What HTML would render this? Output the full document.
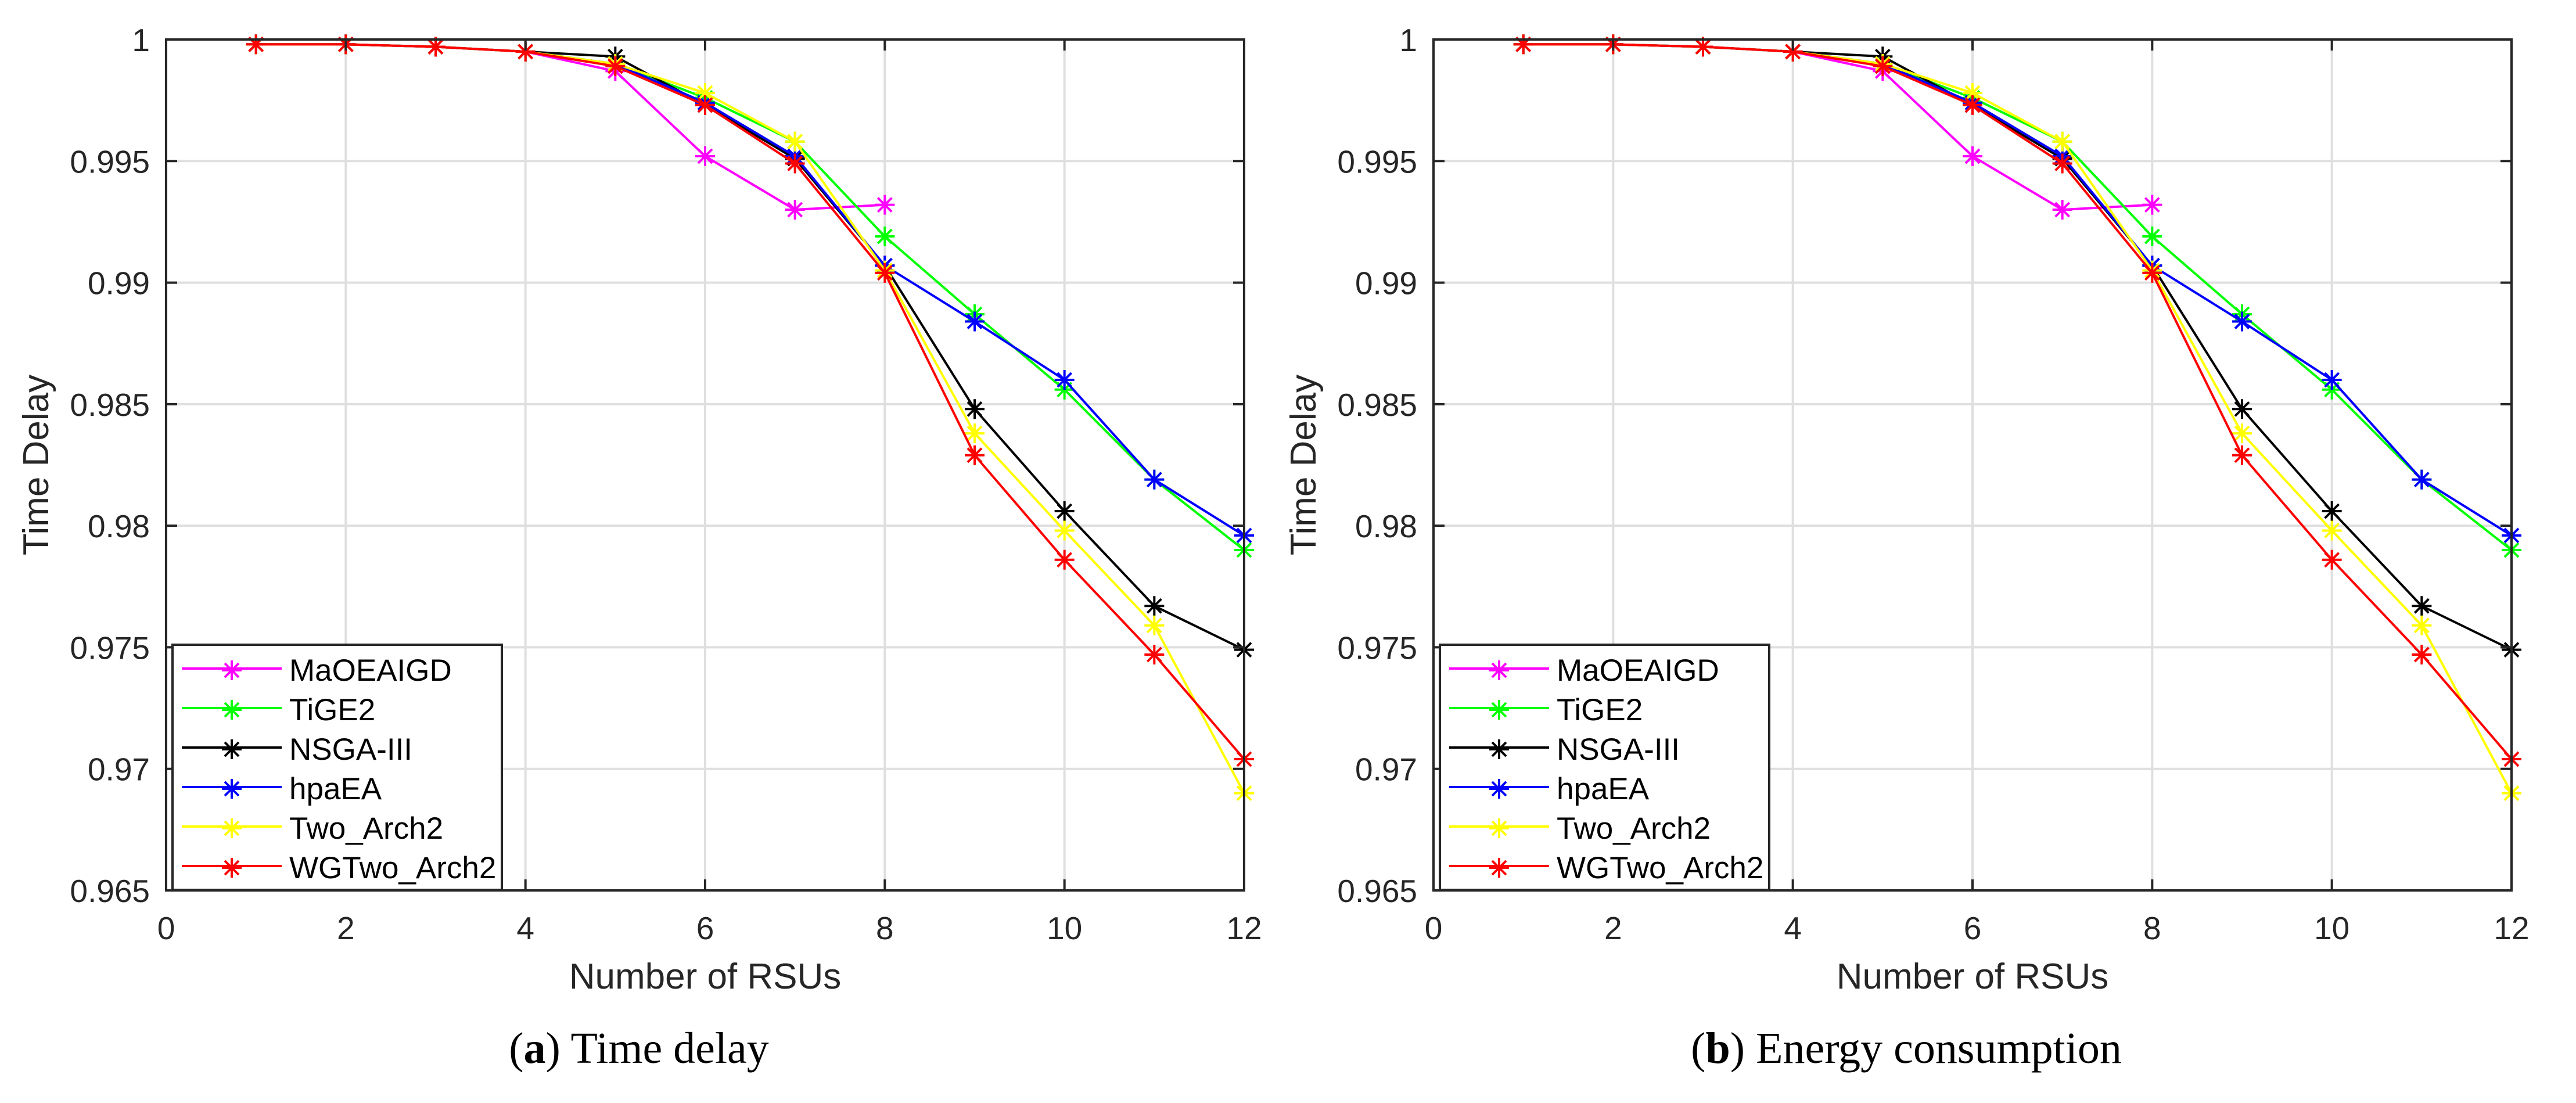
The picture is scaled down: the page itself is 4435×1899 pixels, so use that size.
<!DOCTYPE html>
<html><head><meta charset="utf-8"><style>
html,body{margin:0;padding:0;background:#fff;}
svg{display:block;}
text{font-family:"Liberation Sans",sans-serif;fill:#262626;}
</style></head><body>
<svg id="fig" width="4435" height="1899" viewBox="0 0 4435 1899" xmlns="http://www.w3.org/2000/svg"></svg>
<script>
const categories = [1,2,3,4,5,6,7,8,9,10,11,12];
const seriesNames = ["MaOEAIGD","TiGE2","NSGA-III","hpaEA","Two_Arch2","WGTwo_Arch2"];
const seriesColors = ["#ff00ff","#00ff00","#000000","#0000ff","#ffff00","#ff0000"];
const maoeaigd = [0.9998,0.9998,0.9997,0.9995,0.9987,0.9952,0.9930,0.9932];
const tige2 = [0.9998,0.9998,0.9997,0.9995,0.9990,0.9976,0.9958,0.9919,0.9887,0.9856,0.9819,0.9790];
const nsga3 = [0.9998,0.9998,0.9997,0.9995,0.9993,0.9973,0.9951,0.9907,0.9848,0.9806,0.9767,0.9749];
const hpaea = [0.9998,0.9998,0.9997,0.9995,0.9990,0.9974,0.9952,0.9907,0.9884,0.9860,0.9819,0.9796];
const twoArch2 = [0.9998,0.9998,0.9997,0.9995,0.9990,0.9978,0.9958,0.9905,0.9838,0.9798,0.9759,0.9690];
const wgTwoArch2 = [0.9998,0.9998,0.9997,0.9995,0.9989,0.9973,0.9949,0.9904,0.9829,0.9786,0.9747,0.9704];
const xTicks = [0,2,4,6,8,10,12];
const yTicks = [0.965,0.97,0.975,0.98,0.985,0.99,0.995,1];
const yTickLabels = ["0.965","0.97","0.975","0.98","0.985","0.99","0.995","1"];
const captions = [["a","Time delay"],["b","Energy consumption"]];

const NS="http://www.w3.org/2000/svg";
const svg=document.getElementById('fig');
function mk(tag,attrs,parent){const e=document.createElementNS(NS,tag);for(const k in attrs)e.setAttribute(k,attrs[k]);(parent||svg).appendChild(e);return e;}
const allSeries=[maoeaigd,tige2,nsga3,hpaea,twoArch2,wgTwoArch2];
const AX=[286,2468], TOP=68, BOT=1533, W=1856;
const XMIN=0,XMAX=12,YMIN=0.965,YMAX=1;
function star(g,cx,cy,color){
  const r=17,d=12;
  const p=mk('path',{d:`M${cx-r} ${cy}H${cx+r}M${cx} ${cy-r}V${cy+r}M${cx-d} ${cy-d}L${cx+d} ${cy+d}M${cx-d} ${cy+d}L${cx+d} ${cy-d}`,stroke:color,'stroke-width':4,fill:'none'},g);
  
  
}
AX.forEach((L,pi)=>{
  const R=L+W;
  const xs=v=>L+(v-XMIN)/(XMAX-XMIN)*W;
  const ys=v=>BOT-(v-YMIN)/(YMAX-YMIN)*(BOT-TOP);
  const panel=mk('g',{});
  
  
  const grid=mk('g',{stroke:'#dfdfdf','stroke-width':4},panel);
  
  
  xTicks.forEach(t=>{if(t>XMIN&&t<XMAX)mk('line',{x1:xs(t),x2:xs(t),y1:TOP,y2:BOT},grid);});
  yTicks.forEach(t=>{if(t>YMIN&&t<YMAX)mk('line',{x1:L,x2:R,y1:ys(t),y2:ys(t)},grid);});
  const plot=mk('g',{},panel);
  
  
  allSeries.forEach((vals,si)=>{
    const g=mk('g',{},plot);
    
    
    const pts=vals.map((v,i)=>xs(categories[i])+','+ys(v)).join(' ');
    const pl=mk('polyline',{points:pts,fill:'none',stroke:seriesColors[si],'stroke-width':4,'stroke-linejoin':'round'},g);
    
    
    vals.forEach((v,i)=>star(g,xs(categories[i]),ys(v),seriesColors[si]));
  });
  const axes=mk('g',{stroke:'#262626','stroke-width':4,fill:'none'},panel);
  
  
  mk('rect',{x:L,y:TOP,width:W,height:BOT-TOP},axes);
  xTicks.forEach(t=>{const x=xs(t);mk('line',{x1:x,x2:x,y1:BOT,y2:BOT-19},axes);mk('line',{x1:x,x2:x,y1:TOP,y2:TOP+19},axes);});
  yTicks.forEach(t=>{const y=ys(t);mk('line',{x1:L,x2:L+19,y1:y,y2:y},axes);mk('line',{x1:R,x2:R-19,y1:y,y2:y},axes);});
  xTicks.forEach(t=>{const e=mk('text',{x:xs(t),y:1617,'font-size':55,'text-anchor':'middle'},panel);e.textContent=t;
    
    });
  yTicks.forEach((t,i)=>{const e=mk('text',{x:L-28,y:ys(t)+20,'font-size':55,'text-anchor':'end'},panel);e.textContent=yTickLabels[i];
    
    });
  const xl=mk('text',{x:L+928,y:1702,'font-size':62,'text-anchor':'middle'},panel);xl.textContent='Number of RSUs';
  
  
  const yl=mk('text',{x:0,y:0,'font-size':62,'text-anchor':'middle',transform:`translate(${L-203},${(TOP+BOT)/2}) rotate(-90)`},panel);yl.textContent='Time Delay';
  
  
  // legend
  const lg=mk('g',{},panel);
  
  
  mk('rect',{x:L+11,y:1110,width:567,height:422,fill:'#fff',stroke:'#262626','stroke-width':4},lg);
  seriesNames.forEach((n,si)=>{
    const y=1151+si*68;
    const e=mk('g',{},lg);
    
    
    mk('line',{x1:L+27,x2:L+199,y1:y,y2:y,stroke:seriesColors[si],'stroke-width':4},e);
    star(e,L+113,y+3,seriesColors[si]);
    const t=mk('text',{x:L+212,y:y+21,'font-size':53,fill:'#000'},e);t.textContent=n;t.style.fill='#000';
  });
  const cap=mk('text',{x:L+814,y:1830,'font-size':76,'text-anchor':'middle'},panel);
  cap.style.fontFamily='"Liberation Serif",serif';cap.style.fill='#000';
  
  
  const t1=mk('tspan',{},cap);t1.textContent='(';
  const t2=mk('tspan',{'font-weight':'bold'},cap);t2.textContent=captions[pi][0];
  const t3=mk('tspan',{},cap);t3.textContent=') '+captions[pi][1];
});
</script>
</body></html>
